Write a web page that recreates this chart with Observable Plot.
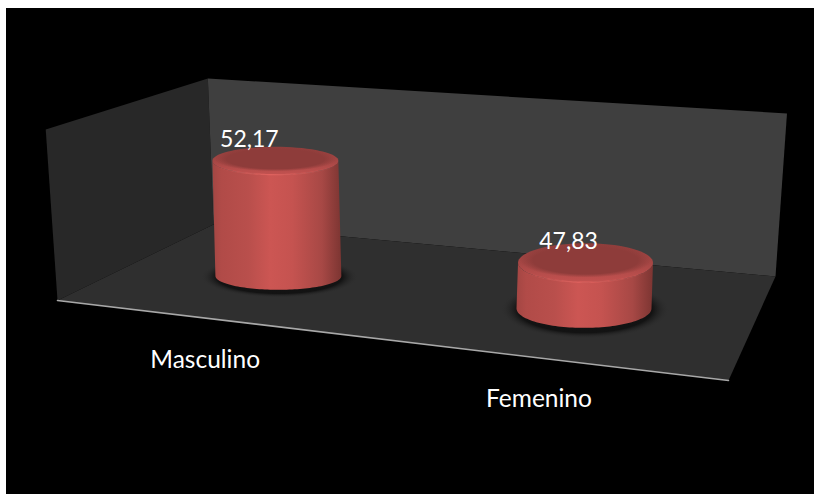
<!DOCTYPE html>
<html>
<head>
<meta charset="utf-8">
<script src="https://cdn.jsdelivr.net/npm/d3@7"></script>
<script src="https://cdn.jsdelivr.net/npm/@observablehq/plot@0.6"></script>
<style>
  html, body { margin: 0; background: #fff; overflow: hidden; }
  #chart { position: absolute; left: 6px; top: 8px; }
  #chart svg { display: block; background: #000; }
</style>
</head>
<body>
<div id="chart"></div>
<script>
// Chart values
const categories = ["Masculino", "Femenino"];
const values = [52.17, 47.83];
const valueDomain = [45.2, 55];

// Scene: the floor corners and the wall height at each corner, in page pixels
const floor = { fl: [57, 300], fr: [728, 380], br: [775, 276], bl: [213, 224] };
const wallHeight = { fl: 171, fr: 188, br: 163, bl: 146 };
const vanishX = 412;
const lean = 1.94e-4;

const share = d3.scaleLinear().domain(valueDomain).range([0, 1]);
const mix = (a, b, t) => a + (b - a) * t;

// Maps category position u, depth v and a value onto the page
function project(u, v, value) {
  const bx = mix(mix(floor.fl[0], floor.fr[0], u), mix(floor.bl[0], floor.br[0], u), v);
  const by = mix(mix(floor.fl[1], floor.fr[1], u), mix(floor.bl[1], floor.br[1], u), v);
  const full = mix(mix(wallHeight.fl, wallHeight.fr, u), mix(wallHeight.bl, wallHeight.br, u), v);
  const h = full * share(value);
  return { x: bx + (bx - vanishX) * h * lean, y: by - h };
}

const base = valueDomain[0];
const top3d = valueDomain[1];

// Solid polygon through the page scales
const poly = (pts, fill, extra = {}) =>
  Plot.line(pts, { x: "x", y: "y", fill, stroke: "none", ...extra });

const ellipsePts = (c, rx, ry, from = 0, to = 2 * Math.PI, n = 72) =>
  d3.range(n + 1).map((i) => {
    const a = mix(from, to, i / n);
    return { x: c.x + rx * Math.cos(a), y: c.y + ry * Math.sin(a) };
  });

const slotU = (i) => 0.2275 + 0.4975 * i;
const slotV = 0.52;

const rows = categories.map((name, i) => {
  const u = slotU(i);
  return {
    name,
    value: values[i],
    u,
    bottom: project(u, slotV, base),
    top: project(u, slotV, values[i]),
    edge: project(u, 0, base),
    rx: 60.9 + 9.1 * u,
    ry: 11.4 + 11.1 * u
  };
});

function cylinder(r) {
  const { bottom: b, top: t, rx, ry } = r;
  const side = [
    ...ellipsePts(t, rx, ry, Math.PI, 0),
    ...ellipsePts(b, rx, ry, 0, Math.PI)
  ];
  return [
    poly(ellipsePts({ x: b.x + 1, y: b.y + 1 }, rx * 1.25, ry * 1.5), "url(#contact)"),
    poly(side, "url(#body)"),
    poly(ellipsePts(t, rx, ry), "url(#cap)"),
    poly(ellipsePts({ x: t.x, y: t.y - ry * 0.12 }, rx * 0.97, ry * 0.88), "url(#capInner)"),
    Plot.line(ellipsePts(t, rx, ry, Math.PI * 0.92, Math.PI * 0.08), {
      x: "x", y: "y", stroke: "url(#rimLight)", strokeWidth: 1.2
    })
  ];
}

const defs = () => {
  const g = d3.create("svg:g");
  g.html(`<defs>
    <linearGradient id="body" x1="0" x2="1" y1="0" y2="0">
      <stop offset="0" stop-color="#a34643"/>
      <stop offset="0.07" stop-color="#b14b48"/>
      <stop offset="0.28" stop-color="#b94f4c"/>
      <stop offset="0.45" stop-color="#cc5653"/>
      <stop offset="0.62" stop-color="#c55350"/>
      <stop offset="0.85" stop-color="#a74845"/>
      <stop offset="1" stop-color="#7c3532"/>
    </linearGradient>
    <linearGradient id="cap" x1="0" x2="0" y1="0" y2="1">
      <stop offset="0" stop-color="#8f3d3b"/>
      <stop offset="0.5" stop-color="#a54644"/>
      <stop offset="1" stop-color="#c35250"/>
    </linearGradient>
    <radialGradient id="capInner" cx="0.5" cy="0.5" r="0.5">
      <stop offset="0" stop-color="#8e3c3a"/>
      <stop offset="0.8" stop-color="#8e3c3a"/>
      <stop offset="1" stop-color="#8e3c3a" stop-opacity="0"/>
    </radialGradient>
    <linearGradient id="rimLight" x1="0" x2="1" y1="0" y2="0">
      <stop offset="0" stop-color="#e0625e" stop-opacity="0"/>
      <stop offset="0.45" stop-color="#e0625e"/>
      <stop offset="1" stop-color="#e0625e" stop-opacity="0"/>
    </linearGradient>
    <radialGradient id="contact" cx="0.5" cy="0.5" r="0.5">
      <stop offset="0" stop-color="#111111"/>
      <stop offset="0.8" stop-color="#131313"/>
      <stop offset="1" stop-color="#2f2f2f" stop-opacity="0"/>
    </radialGradient>
  </defs>`);
  return g.node();
};

const leftWall = [project(0, 0, base), project(0, 1, base), project(0, 1, top3d), project(0, 0, top3d)];
const backWall = [project(0, 1, base), project(1, 1, base), project(1, 1, top3d), project(0, 1, top3d)];
const floorPlane = [project(0, 0, base), project(1, 0, base), project(1, 1, base), project(0, 1, base)];
const frontEdge = [project(0, 0, base), project(1, 0, base)];

const labelFont = { fontFamily: "Lato, Carlito, sans-serif", fill: "#fff" };

const chart = Plot.plot({
  width: 808,
  height: 486,
  margin: 0,
  style: { background: "#000" },
  x: { type: "linear", domain: [6, 814], range: [0, 808], axis: null },
  y: { type: "linear", domain: [8, 494], range: [0, 486], axis: null },
  marks: [
    defs,
    poly(leftWall, "#282828"),
    poly(backWall, "#3f3f3f"),
    poly(floorPlane, "#2f2f2f"),
    Plot.line(frontEdge, { x: "x", y: "y", stroke: "#a8a8a8", strokeWidth: 1.6 }),
    ...rows.flatMap(cylinder),
    // Value labels sit just above each cap, drifting right with the category
    Plot.text(rows, {
      x: (r) => r.top.x + mix(-26, -17, (r.u - slotU(0)) / (slotU(1) - slotU(0))),
      y: (r) => r.top.y,
      dy: -21,
      text: (r) => r.value.toFixed(2).replace(".", ","),
      fontSize: 23,
      ...labelFont
    }),
    // Category labels hang below the front edge of the floor
    Plot.text(rows, {
      x: (r) => r.edge.x,
      y: (r) => r.edge.y,
      dx: -5,
      dy: 41,
      text: "name",
      fontSize: 24.5,
      ...labelFont
    })
  ]
});

document.getElementById("chart").append(chart);
</script>
</body>
</html>
